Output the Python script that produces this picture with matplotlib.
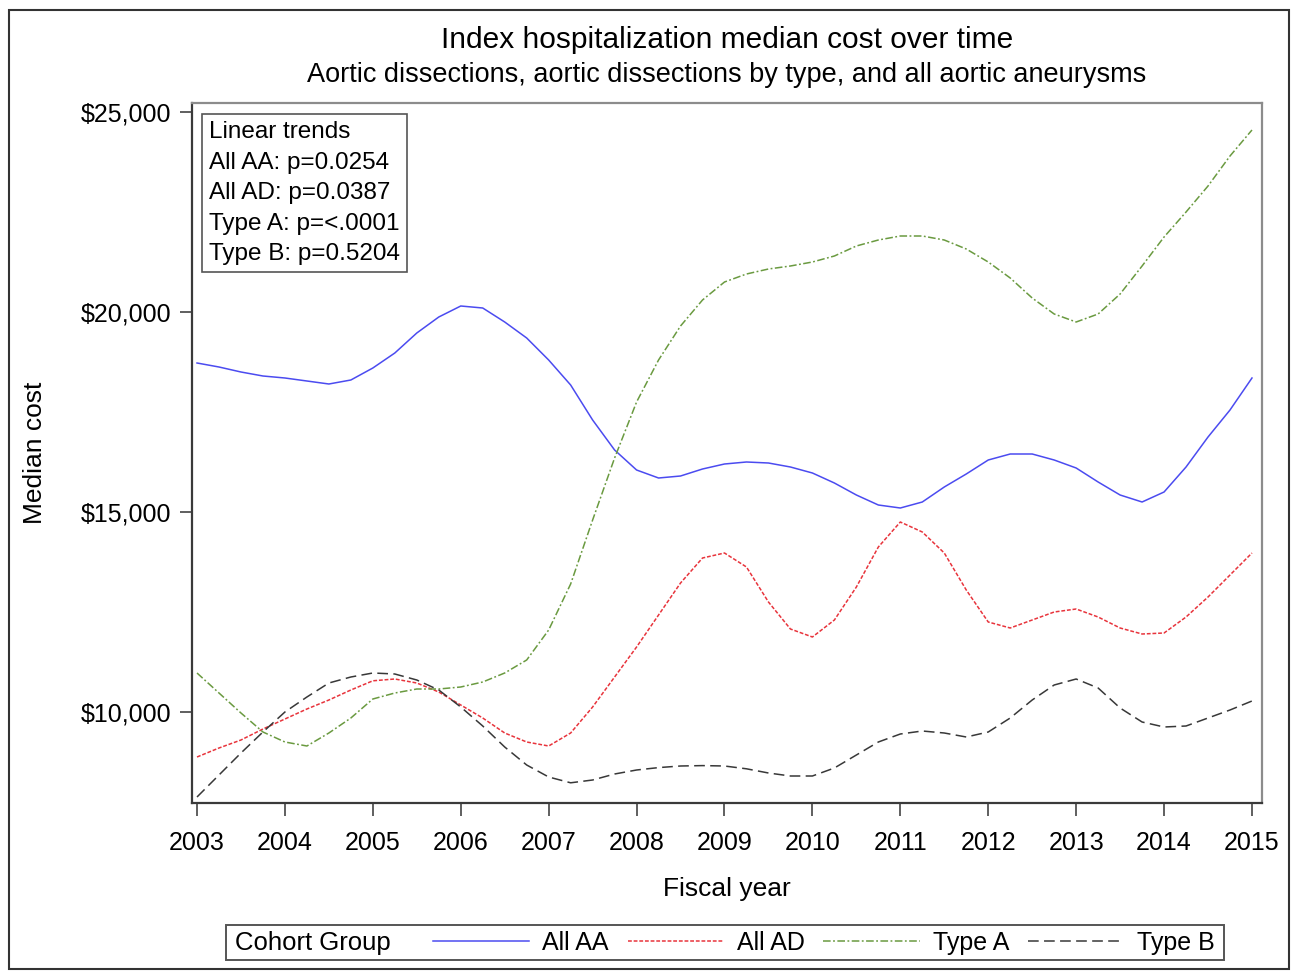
import matplotlib
matplotlib.use("Agg")
import matplotlib.pyplot as plt
from matplotlib.patches import Rectangle
from matplotlib.ticker import FuncFormatter

plt.rcParams['font.family'] = ['Liberation Sans', 'DejaVu Sans']

# fiscal year grid: curves every quarter year
years = [2003 + q / 4 for q in range(49)]
all_aa = [18725, 18625, 18500, 18400, 18350, 18275, 18200, 18300,
          18600, 18975, 19475, 19875, 20150, 20100, 19750, 19350,
          18800, 18175, 17300, 16550, 16050, 15850, 15900, 16075,
          16200, 16250, 16225, 16125, 15975, 15725, 15425, 15175,
          15100, 15250, 15625, 15950, 16300, 16450, 16450, 16300,
          16100, 15750, 15425, 15250, 15500, 16125, 16875, 17550,
          18350]
all_ad = [8875, 9100, 9300, 9575, 9825, 10075, 10300, 10550,
          10780, 10825, 10725, 10500, 10175, 9850, 9475, 9250,
          9150, 9475, 10125, 10875, 11625, 12425, 13225, 13850,
          13975, 13625, 12750, 12075, 11875, 12300, 13125, 14125,
          14750, 14500, 13975, 13050, 12250, 12100, 12300, 12500,
          12575, 12375, 12100, 11950, 11975, 12375, 12875, 13425,
          13975]
type_a = [10975, 10475, 9975, 9500, 9250, 9150, 9475, 9850,
          10325, 10475, 10575, 10575, 10625, 10750, 10975, 11300,
          12050, 13200, 14800, 16350, 17750, 18800, 19650, 20300,
          20750, 20950, 21075, 21150, 21250, 21400, 21650, 21800,
          21900, 21900, 21800, 21575, 21250, 20850, 20350, 19950,
          19750, 19950, 20450, 21150, 21875, 22500, 23150, 23900,
          24550]
type_b = [7875, 8425, 8975, 9500, 10000, 10375, 10725, 10875,
          10975, 10950, 10800, 10550, 10125, 9650, 9125, 8675,
          8375, 8230, 8300, 8450, 8550, 8610, 8650, 8660,
          8650, 8580, 8475, 8400, 8400, 8600, 8925, 9250,
          9450, 9525, 9475, 9375, 9500, 9850, 10300, 10675,
          10825, 10600, 10100, 9750, 9625, 9650, 9850, 10050,
          10275]

year_ticks = list(range(2003, 2016))
cost_ticks = [10000, 15000, 20000, 25000]
trend_lines = ["Linear trends", "All AA: p=0.0254", "All AD: p=0.0387",
               "Type A: p=<.0001", "Type B: p=0.5204"]
series_names = ["All AA", "All AD", "Type A", "Type B"]

fig = plt.figure(figsize=(12.93, 9.71), dpi=100)
W, H = 1293, 971
ax = fig.add_axes([192 / W, 1 - 803 / H, (1262 - 192) / W, (803 - 103) / H])

styles = [
    dict(color="#4b4bf0", lw=1.1, ls="-"),
    dict(color="#e8343c", lw=1.1, dashes=(2.5, 1.2)),
    dict(color="#6a9a40", lw=1.1, dashes=(5, 1.6, 1.2, 1.6)),
    dict(color="#383838", lw=1.1, dashes=(7, 3.5)),
]
handles = []
for vals, st, name in zip([all_aa, all_ad, type_a, type_b], styles, series_names):
    ln, = ax.plot(years, vals, label=name, solid_joinstyle="round",
                  dash_joinstyle="round", **st)
    handles.append(ln)

ax.set_xlim(2002.943, 2015.114)
ax.set_ylim(7725, 25225)
ax.set_xticks(year_ticks)
ax.set_yticks(cost_ticks)
ax.yaxis.set_major_formatter(FuncFormatter(lambda v, p: "${:,.0f}".format(v)))
ax.tick_params(axis="both", direction="out", length=9, width=1.2,
               color="#444444", labelsize=18)
ax.tick_params(axis="x", pad=11)
ax.tick_params(axis="y", pad=6)
for side in ["left", "bottom"]:
    ax.spines[side].set_color("#3a3a3a")
    ax.spines[side].set_linewidth(1.6)
for side in ["top", "right"]:
    ax.spines[side].set_color("#8c8c8c")
    ax.spines[side].set_linewidth(1.6)

ax.set_xlabel("Fiscal year", fontsize=19, labelpad=16)
ax.set_ylabel("Median cost", fontsize=19, labelpad=24)

# inset box with p-values
ax.text(0.016, 0.974, "\n".join(trend_lines), transform=ax.transAxes,
        fontsize=17.5, va="top", ha="left", linespacing=1.5,
        bbox=dict(boxstyle="square,pad=0.3", fc="white", ec="#555555", lw=1.2))

# titles
fig.text(727 / W, 1 - 40 / H, "Index hospitalization median cost over time",
         ha="center", va="center", fontsize=21.5)
fig.text(727 / W, 1 - 75 / H,
         "Aortic dissections, aortic dissections by type, and all aortic aneurysms",
         ha="center", va="center", fontsize=19.5)

# legend box along the bottom
fig.patches.append(Rectangle((226 / W, 1 - 960 / H), (1224 - 226) / W, 35 / H,
                             transform=fig.transFigure, fill=False,
                             ec="#555555", lw=1.4))
fig.text(235 / W, 1 - 943 / H, "Cohort Group", ha="left", va="center", fontsize=18.5)
fig.legend(handles=handles, labels=series_names, loc="center left",
           bbox_to_anchor=(433 / W, 1 - 943 / H), ncol=4, frameon=False,
           fontsize=18, handlelength=3.85, handletextpad=0.52, columnspacing=0.75,
           borderaxespad=0, borderpad=0)

# outer frame of the picture
fig.patches.append(Rectangle((9 / W, 1 - 969 / H), (1289 - 9) / W, (969 - 10) / H,
                             transform=fig.transFigure, fill=False,
                             ec="#333333", lw=1.5))

fig.savefig("out.png", dpi=100)
